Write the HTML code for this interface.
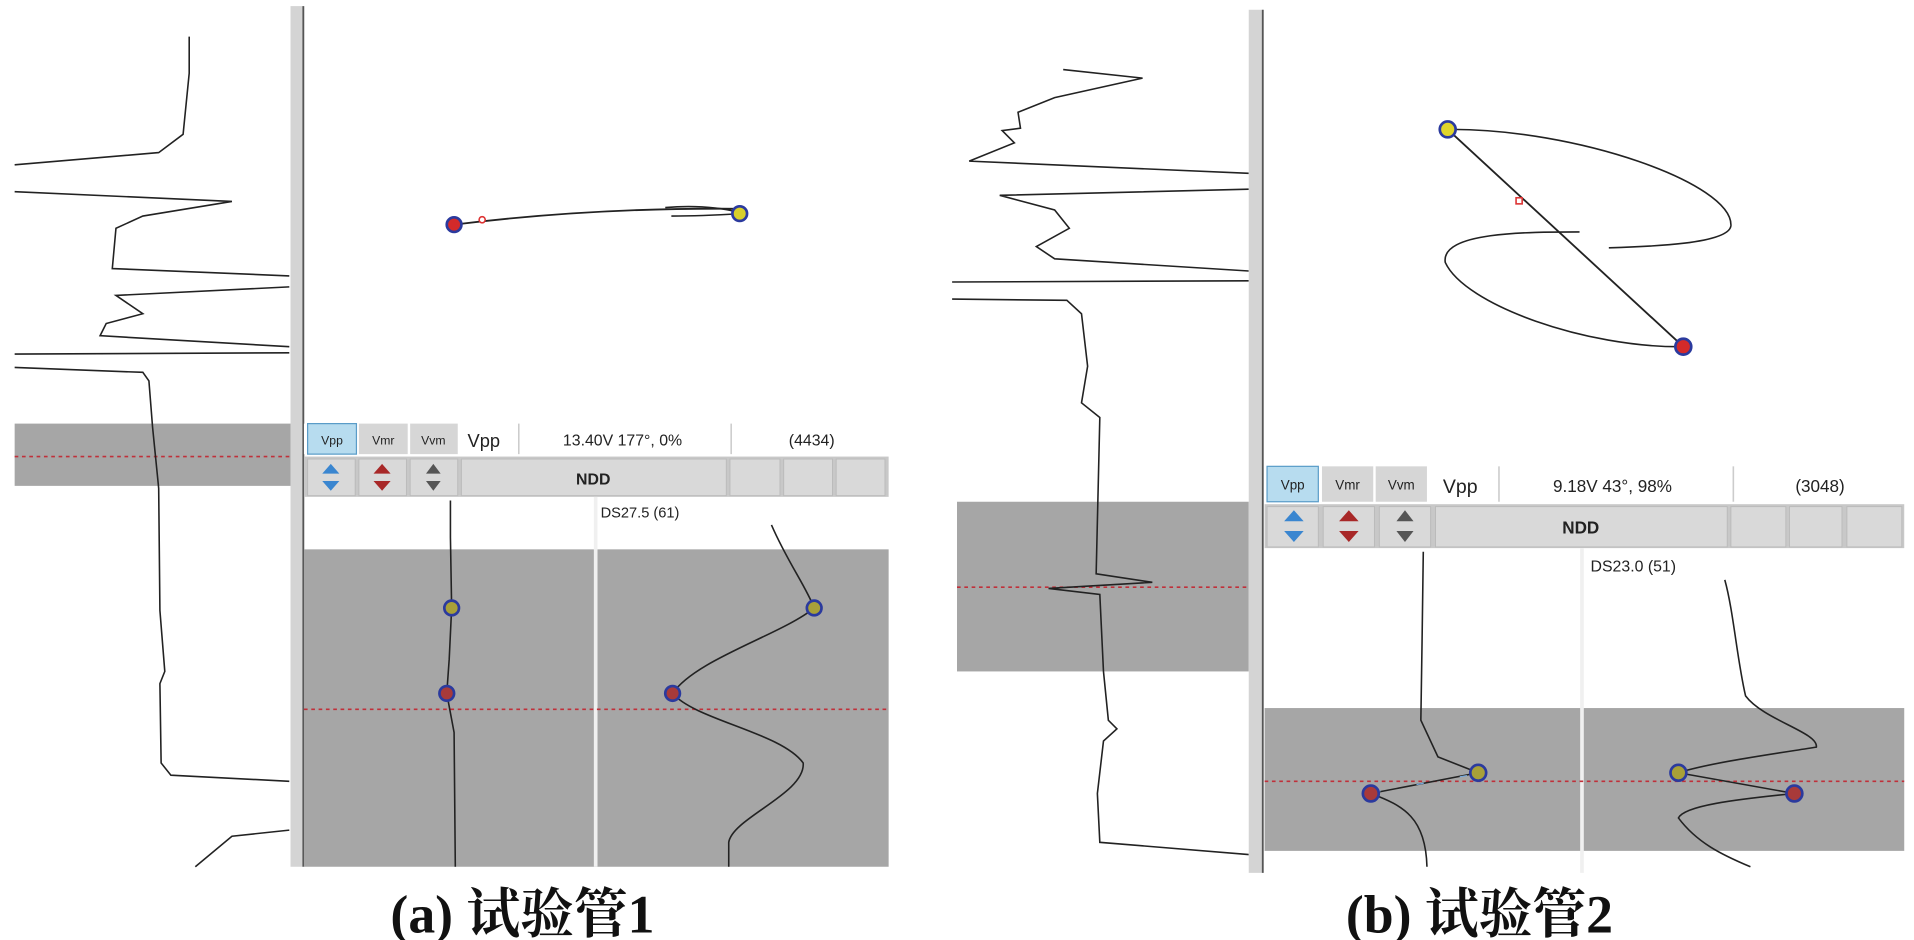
<!DOCTYPE html>
<html><head><meta charset="utf-8"><style>
html,body{margin:0;padding:0;background:#fff;}
svg{display:block}
</style></head><body>
<svg width="1914" height="940" viewBox="0 0 1568 770" preserveAspectRatio="none" xmlns="http://www.w3.org/2000/svg">
<rect width="1568" height="770" fill="#fff"/>
<g fill="none" stroke="#222" stroke-width="1.3">
<rect x="12" y="347" width="226" height="51" fill="#a6a6a6" stroke="none"/>
<line x1="12" y1="374" x2="238" y2="374" stroke="#c0303a" stroke-dasharray="3,3"/>
<polyline points="155,30 155,60 150,110 130,125 12,135"/>
<polyline points="12,157 190,165 117,177 95,187 92,220 237,226"/>
<polyline points="237,235 95,242 117,257 87,265 82,275 237,284"/>
<polyline points="237,289 12,290"/>
<polyline points="12,301 117,305 122,312 125,350 127,370 130,400 131,500 135,550 131,560 132,625 140,635 237,640"/>
<polyline points="237,680 190,685 160,710"/>
<rect x="238" y="5" width="10" height="705" fill="#d4d4d4" stroke="none"/>
<line x1="248.5" y1="5" x2="248.5" y2="710" stroke="#555" stroke-width="1.5"/>
<rect x="249" y="347" width="479" height="25" fill="#fff" stroke="none"/>
<rect x="252" y="347" width="40" height="25" fill="#b7dcef" stroke="#5a9cc8" stroke-width="1"/>
<rect x="294" y="347" width="40" height="25" fill="#d6d6d6" stroke="none"/>
<rect x="336" y="347" width="39" height="25" fill="#d6d6d6" stroke="none"/>
<line x1="425" y1="347" x2="425" y2="372" stroke="#ccc"/>
<line x1="599" y1="347" x2="599" y2="372" stroke="#ccc"/>
<rect x="249" y="374" width="479" height="33" fill="#c8c8c8" stroke="none"/>
<rect x="252" y="376" width="39" height="30" fill="#d9d9d9" stroke="#bbb" stroke-width="0.8"/>
<rect x="294" y="376" width="39" height="30" fill="#d9d9d9" stroke="#bbb" stroke-width="0.8"/>
<rect x="336" y="376" width="39" height="30" fill="#d9d9d9" stroke="#bbb" stroke-width="0.8"/>
<rect x="378" y="376" width="217" height="30" fill="#d9d9d9" stroke="#bbb" stroke-width="0.8"/>
<rect x="598" y="376" width="41" height="30" fill="#d9d9d9" stroke="#bbb" stroke-width="0.8"/>
<rect x="642" y="376" width="40" height="30" fill="#d9d9d9" stroke="#bbb" stroke-width="0.8"/>
<rect x="685" y="376" width="40" height="30" fill="#d9d9d9" stroke="#bbb" stroke-width="0.8"/>
<rect x="249" y="450" width="479" height="260" fill="#a6a6a6" stroke="none"/>
<line x1="488" y1="407" x2="488" y2="710" stroke="#f0f0f0" stroke-width="3"/>
<line x1="249" y1="581" x2="728" y2="581" stroke="#c0303a" stroke-dasharray="3,3"/>
<path d="M372,184 C420,178 500,170 606,171" stroke-width="1.5"/>
<path d="M545,170 C570,168 590,170 606,174 M550,177 C570,177 590,176 606,175"/>
<circle cx="395" cy="180" r="2.5" stroke="#d33" fill="#fff"/>
<polyline points="369,410 369,440 370,498 368,540 366,568 372,600 373,710"/>
<path d="M632,430 C645,460 660,480 667,498 C640,520 570,540 551,568 C570,590 640,600 658,625 C660,650 600,670 597,690 L597,710"/>
<rect x="784" y="411" width="239" height="139" fill="#a6a6a6" stroke="none"/>
<line x1="784" y1="481" x2="1023" y2="481" stroke="#c0303a" stroke-dasharray="3,3"/>
<polyline points="871,57 936,64 864,80 834,92 836,105 821,107 831,117 794,132 1023,142"/>
<polyline points="1023,155 819,160 864,172 876,187 849,202 864,212 1023,222"/>
<polyline points="1023,230 780,231"/>
<polyline points="780,245 874,246 886,257 891,300 886,330 901,342 898,470 944,477 859,482 901,487 904,550 908,590 915,597 904,607 899,650 901,690 1023,700"/>
<rect x="1023" y="8" width="11" height="707" fill="#d4d4d4" stroke="none"/>
<line x1="1034.5" y1="8" x2="1034.5" y2="715" stroke="#555" stroke-width="1.5"/>
<rect x="1038" y="382" width="42" height="29" fill="#b7dcef" stroke="#5a9cc8" stroke-width="1"/>
<rect x="1083" y="382" width="42" height="29" fill="#d6d6d6" stroke="none"/>
<rect x="1127" y="382" width="42" height="29" fill="#d6d6d6" stroke="none"/>
<line x1="1228" y1="382" x2="1228" y2="411" stroke="#ccc"/>
<line x1="1420" y1="382" x2="1420" y2="411" stroke="#ccc"/>
<rect x="1036" y="413" width="524" height="36" fill="#c8c8c8" stroke="none"/>
<rect x="1038" y="415" width="42" height="33" fill="#d9d9d9" stroke="#bbb" stroke-width="0.8"/>
<rect x="1084" y="415" width="42" height="33" fill="#d9d9d9" stroke="#bbb" stroke-width="0.8"/>
<rect x="1130" y="415" width="42" height="33" fill="#d9d9d9" stroke="#bbb" stroke-width="0.8"/>
<rect x="1176" y="415" width="239" height="33" fill="#d9d9d9" stroke="#bbb" stroke-width="0.8"/>
<rect x="1418" y="415" width="45" height="33" fill="#d9d9d9" stroke="#bbb" stroke-width="0.8"/>
<rect x="1466" y="415" width="43" height="33" fill="#d9d9d9" stroke="#bbb" stroke-width="0.8"/>
<rect x="1513" y="415" width="45" height="33" fill="#d9d9d9" stroke="#bbb" stroke-width="0.8"/>
<rect x="1036" y="580" width="524" height="117" fill="#a6a6a6" stroke="none"/>
<line x1="1296" y1="449" x2="1296" y2="715" stroke="#f0f0f0" stroke-width="3"/>
<line x1="1036" y1="640" x2="1560" y2="640" stroke="#c0303a" stroke-dasharray="3,3"/>
<line x1="1186" y1="106" x2="1379" y2="284" stroke-width="1.5"/>
<path d="M1186,106 C1290,105 1420,150 1418,185 C1416,200 1350,202 1318,203"/>
<path d="M1294,190 C1250,190 1180,190 1184,215 C1200,250 1300,285 1379,284"/>
<rect x="1242" y="162" width="5" height="5" stroke="#d33" fill="#fff"/>
<polyline points="1166,452 1165,525 1164,590 1178,620 1211,633"/>
<path d="M1211,633 L1123,650 C1150,660 1168,670 1169,710"/>
<path d="M1413,475 C1420,500 1423,540 1430,570 C1445,590 1490,600 1488,612 C1450,618 1400,625 1375,633 L1470,650 C1420,655 1380,660 1375,670 C1390,690 1410,700 1434,710"/>
</g>
<line x1="1125" y1="649" x2="1209" y2="634" stroke="#7ad" stroke-width="1" stroke-dasharray="6,30"/>
<g stroke="#2b3a9e" stroke-width="2.2">
<circle cx="372" cy="184" r="6" fill="#d42a2a"/>
<circle cx="606" cy="175" r="6" fill="#d8d02a"/>
<circle cx="370" cy="498" r="6" fill="#a8a038"/>
<circle cx="366" cy="568" r="6" fill="#a83a3a"/>
<circle cx="667" cy="498" r="6" fill="#a8a038"/>
<circle cx="551" cy="568" r="6" fill="#a83a3a"/>
<circle cx="1186" cy="106" r="6.5" fill="#e0d52a"/>
<circle cx="1379" cy="284" r="6.5" fill="#d42a2a"/>
<circle cx="1211" cy="633" r="6.5" fill="#a8a038"/>
<circle cx="1123" cy="650" r="6.5" fill="#a83a3a"/>
<circle cx="1375" cy="633" r="6.5" fill="#a8a038"/>
<circle cx="1470" cy="650" r="6.5" fill="#a83a3a"/>
</g>
<g>
<path d="M271,380 l7,8 h-14z M271,402 l7,-8 h-14z" fill="#3a86d0"/>
<path d="M313,380 l7,8 h-14z M313,402 l7,-8 h-14z" fill="#a82828"/>
<path d="M355,380 l6,8 h-12z M355,402 l6,-8 h-12z" fill="#555"/>
<path d="M1060,418 l8,9 h-16z M1060,444 l8,-9 h-16z" fill="#3a86d0"/>
<path d="M1105,418 l8,9 h-16z M1105,444 l8,-9 h-16z" fill="#a82828"/>
<path d="M1151,418 l7,9 h-14z M1151,444 l7,-9 h-14z" fill="#555"/>
</g>
<g font-family="Liberation Sans, sans-serif" fill="#222">
<text x="272" y="364" font-size="10" text-anchor="middle">Vpp</text>
<text x="314" y="364" font-size="10" text-anchor="middle">Vmr</text>
<text x="355" y="364" font-size="10" text-anchor="middle">Vvm</text>
<text x="383" y="366" font-size="15">Vpp</text>
<text x="510" y="365" font-size="13" text-anchor="middle">13.40V 177°, 0%</text>
<text x="665" y="365" font-size="13" text-anchor="middle">(4434)</text>
<text x="486" y="397" font-size="13" font-weight="bold" text-anchor="middle">NDD</text>
<text x="492" y="424" font-size="12">DS27.5 (61)</text>
<text x="1059" y="401" font-size="11" text-anchor="middle">Vpp</text>
<text x="1104" y="401" font-size="11" text-anchor="middle">Vmr</text>
<text x="1148" y="401" font-size="11" text-anchor="middle">Vvm</text>
<text x="1182" y="404" font-size="16">Vpp</text>
<text x="1321" y="403" font-size="14" text-anchor="middle">9.18V 43°, 98%</text>
<text x="1491" y="403" font-size="14" text-anchor="middle">(3048)</text>
<text x="1295" y="437" font-size="14" font-weight="bold" text-anchor="middle">NDD</text>
<text x="1303" y="468" font-size="13">DS23.0 (51)</text>
</g>
<g font-family="Liberation Serif, 'Noto Serif CJK SC', serif" font-weight="bold" font-size="44" fill="#111" text-anchor="middle">
<text x="428" y="764">(a) 试验管1</text>
<text x="1212" y="764">(b) 试验管2</text>
</g>
</svg>
</body></html>
